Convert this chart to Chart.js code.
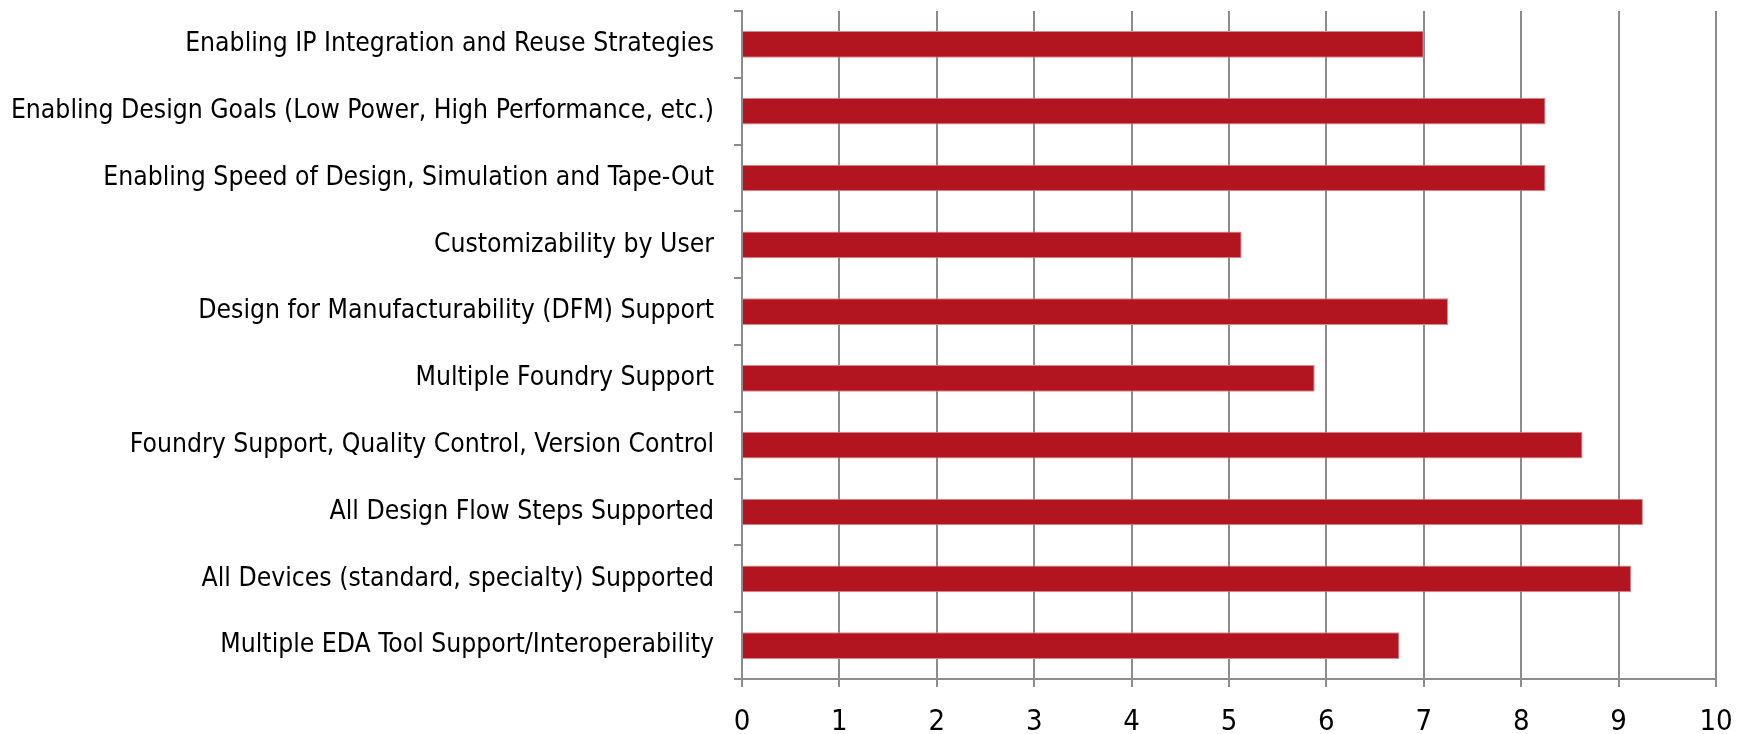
<!DOCTYPE html>
<html>
<head>
<meta charset="utf-8">
<script src="https://cdn.jsdelivr.net/npm/chart.js@4.4.0/dist/chart.umd.min.js"></script>
<style>
html,body{margin:0;padding:0;background:#fff;}
#wrap{width:1747px;height:734px;position:relative;}
</style>
</head>
<body>
<div id="wrap"><canvas id="c" width="1747" height="734"></canvas></div>
<script>
const categories = [
  "Enabling IP Integration and Reuse Strategies",
  "Enabling Design Goals (Low Power, High Performance, etc.)",
  "Enabling Speed of Design, Simulation and Tape-Out",
  "Customizability by User",
  "Design for Manufacturability (DFM) Support",
  "Multiple Foundry Support",
  "Foundry Support, Quality Control, Version Control",
  "All Design Flow Steps Supported",
  "All Devices (standard, specialty) Supported",
  "Multiple EDA Tool Support/Interoperability"
];
const scores = [7.0, 8.25, 8.25, 5.13, 7.25, 5.88, 8.63, 9.25, 9.13, 6.75];
const xTicks = [0, 1, 2, 3, 4, 5, 6, 7, 8, 9, 10];

const FONT = "'DejaVu Sans Condensed', 'DejaVu Sans', sans-serif";
const GRID = '#8c8c8c';

new Chart(document.getElementById('c'), {
  type: 'bar',
  data: {
    labels: categories,
    datasets: [{
      data: scores,
      backgroundColor: '#B2151F',
      borderColor: '#d98a8f',
      borderWidth: 1,
      categoryPercentage: 0.8,
      barPercentage: 0.5
    }]
  },
  options: {
    indexAxis: 'y',
    responsive: false,
    animation: false,
    devicePixelRatio: 1,
    layout: { padding: { left: 0, right: 31, top: 11, bottom: 0 } },
    plugins: { legend: { display: false }, tooltip: { enabled: false } },
    scales: {
      x: {
        min: xTicks[0],
        max: xTicks[xTicks.length - 1],
        afterBuildTicks: s => { s.ticks = xTicks.map(v => ({ value: v })); },
        grid: { color: GRID, lineWidth: 2, tickLength: 8, drawTicks: true },
        border: { color: GRID, width: 2 },
        ticks: { color: '#000', font: { family: FONT, size: 29 }, padding: 18 },
        afterFit: s => { s.height = 55; s.paddingLeft = 0; s.paddingRight = 0; }
      },
      y: {
        offset: true,
        grid: { offset: true, drawOnChartArea: false, drawTicks: true, tickLength: 8, color: GRID, lineWidth: 2 },
        border: { color: GRID, width: 2 },
        ticks: { color: '#000', font: { family: FONT, size: 26.3 }, padding: 20, autoSkip: false },
        afterFit: s => { s.width = 742; s.paddingTop = 0; s.paddingBottom = 0; }
      }
    }
  }
});
</script>
</body>
</html>
